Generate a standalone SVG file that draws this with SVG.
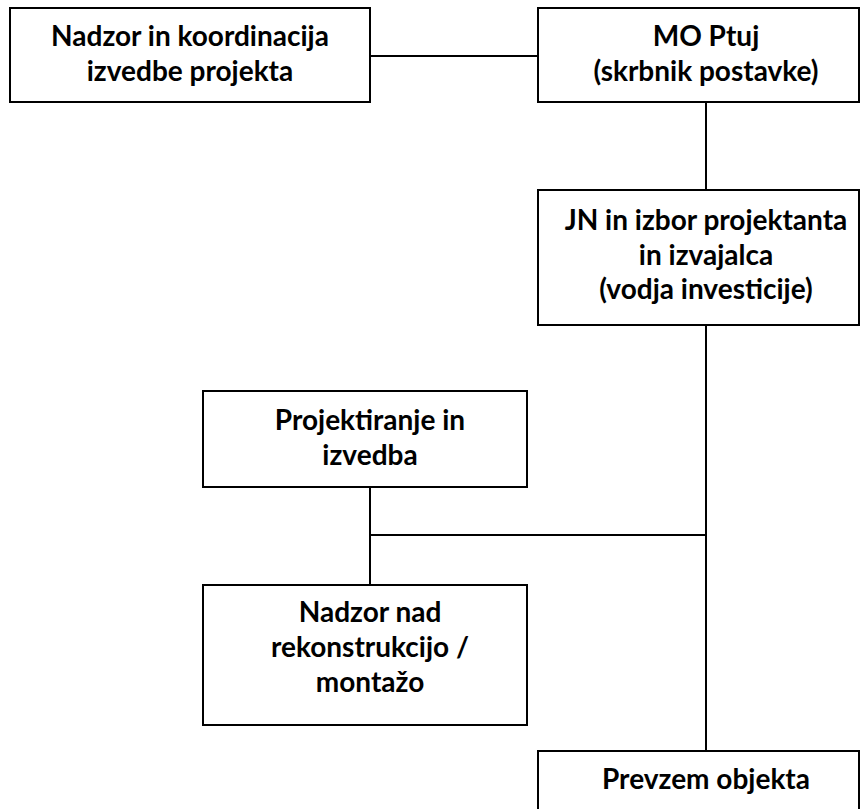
<svg xmlns="http://www.w3.org/2000/svg" width="864" height="809" viewBox="0 0 864 809">
<style>
.box{fill:#fff;stroke:#000;stroke-width:2}
.t{font-family:Lato,"Open Sans",sans-serif;font-weight:bold;font-size:28px;text-anchor:middle;fill:#000}
.c{stroke:#000;stroke-width:2;fill:none}
</style>
<rect width="864" height="809" fill="#fff"/>
<g id="connectors">
<line class="c" x1="370" y1="56" x2="538" y2="56"/>
<line class="c" x1="706" y1="102" x2="706" y2="190"/>
<line class="c" x1="706" y1="325" x2="706" y2="751"/>
<line class="c" x1="370" y1="535" x2="706" y2="535"/>
<line class="c" x1="370" y1="487" x2="370" y2="585"/>
</g>
<g id="n1">
<rect class="box" x="10" y="8" width="360" height="94"/>
<text class="t" x="190" y="46">Nadzor in koordinacija</text>
<text class="t" x="190" y="81">izvedbe projekta</text>
</g>
<g id="n2">
<rect class="box" x="538" y="8" width="321" height="94"/>
<text class="t" x="706" y="46">MO Ptuj</text>
<text class="t" x="706" y="81">(skrbnik postavke)</text>
</g>
<g id="n3">
<rect class="box" x="538" y="190" width="321" height="135"/>
<text class="t" x="706" y="230">JN in izbor projektanta</text>
<text class="t" x="706" y="265">in izvajalca</text>
<text class="t" x="706" y="299">(vodja investicije)</text>
</g>
<g id="n4">
<rect class="box" x="203" y="391" width="324" height="96"/>
<text class="t" x="370" y="430">Projektiranje in</text>
<text class="t" x="370" y="465">izvedba</text>
</g>
<g id="n5">
<rect class="box" x="203" y="585" width="324" height="140"/>
<text class="t" x="370" y="622">Nadzor nad</text>
<text class="t" x="370" y="657">rekonstrukcijo /</text>
<text class="t" x="370" y="692">montažo</text>
</g>
<g id="n6">
<rect class="box" x="538" y="751" width="321" height="70"/>
<text class="t" x="706" y="789">Prevzem objekta</text>
</g>
</svg>
